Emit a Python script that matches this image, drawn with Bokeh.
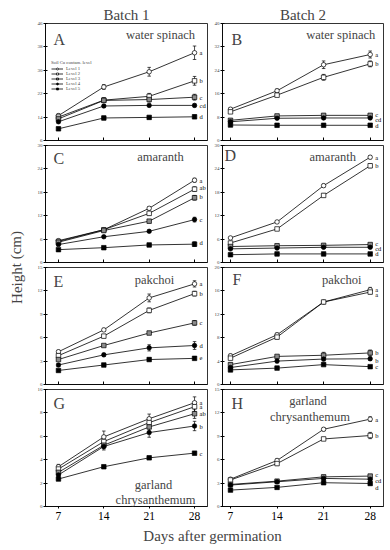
from bokeh.plotting import figure
from bokeh.models import (ColumnDataSource, Whisker, TeeHead, Range1d, FixedTicker,
                          Label, Legend, LegendItem)
from bokeh.layouts import row, column
from bokeh.embed import file_html
from bokeh.resources import INLINE
from bokeh.core.properties import value

# ---------------- data ----------------
days = [7, 14, 21, 28]
levels = ["Level 1", "Level 2", "Level 3", "Level 4", "Level 5"]
legend_title = "Soil Cu contam. level"
batches = ["Batch 1", "Batch 2"]
x_title = "Days after germination"
y_title = "Height (cm)"

A_mean = [[14.5, 24.3, 29.5, 36.0], [14.0, 19.8, 21.1, 26.4], [13.4, 19.7, 20.0, 20.8],
          [12.4, 17.8, 18.0, 18.0], [10.0, 13.7, 13.9, 14.1]]
A_err = [[0.6, 0.8, 1.5, 2.3], [0.5, 0.8, 1.0, 1.5], [0.4, 0.7, 0.8, 1.0],
         [0.4, 0.5, 0.4, 0.5], [0.4, 0.6, 0.5, 0.6]]
A_let = ["a", "b", "c", "cd", "d"]

B_mean = [[10.7, 17.0, 25.9, 29.4], [9.8, 15.5, 21.6, 26.2], [6.9, 8.4, 8.6, 8.6],
          [6.4, 7.6, 7.7, 7.7], [5.3, 5.2, 5.2, 5.2]]
B_err = [[0.5, 0.6, 1.3, 1.2], [0.5, 0.5, 1.0, 1.0], [0.3, 0.3, 0.3, 0.3],
         [0.3, 0.3, 0.3, 0.3], [0.2, 0.2, 0.2, 0.2]]
B_let = ["a", "b", "c", "cd", "d"]

C_mean = [[5.6, 8.4, 13.9, 21.1], [5.4, 8.4, 12.6, 18.8], [5.2, 8.2, 10.6, 16.6],
          [4.6, 6.6, 8.0, 11.0], [3.3, 3.8, 4.5, 4.7]]
C_err = [[0.2, 0.3, 0.4, 0.5], [0.2, 0.3, 0.4, 0.6], [0.2, 0.3, 0.4, 0.6],
         [0.2, 0.2, 0.3, 0.6], [0.2, 0.2, 0.3, 0.6]]
C_let = ["a", "ab", "b", "c", "d"]

D_mean = [[6.3, 10.4, 19.7, 27.0], [5.0, 8.6, 17.2, 24.8], [4.1, 4.3, 4.4, 4.6],
          [3.5, 3.7, 3.9, 3.9], [2.0, 2.2, 2.2, 2.2]]
D_err = [[0.2, 0.3, 0.4, 0.4], [0.2, 0.3, 0.4, 0.5], [0.2, 0.2, 0.2, 0.2],
         [0.2, 0.2, 0.2, 0.2], [0.1, 0.1, 0.1, 0.1]]
D_let = ["a", "b", "c", "cd", "d"]

E_mean = [[4.2, 7.0, 11.1, 12.9], [3.7, 6.2, 9.5, 11.65], [3.2, 5.0, 6.6, 7.9],
          [2.5, 3.8, 4.7, 5.0], [1.8, 2.5, 3.2, 3.35]]
E_err = [[0.2, 0.2, 0.5, 0.4], [0.2, 0.2, 0.3, 0.3], [0.1, 0.1, 0.2, 0.3],
         [0.2, 0.2, 0.4, 0.5], [0.1, 0.1, 0.2, 0.2]]
E_let = ["a", "b", "c", "d", "e"]

F_mean = [[4.9, 8.5, 14.1, 16.2], [4.5, 8.1, 14.1, 15.8], [3.4, 4.8, 5.0, 5.4],
          [2.9, 4.0, 4.35, 4.4], [2.5, 2.8, 3.4, 3.05]]
F_err = [[0.3, 0.3, 0.2, 0.4], [0.2, 0.3, 0.2, 0.3], [0.3, 0.2, 0.5, 0.5],
         [0.2, 0.3, 0.3, 0.3], [0.1, 0.1, 0.2, 0.2]]
F_let = ["a", "a", "b", "b", "c"]

G_mean = [[3.4, 5.95, 7.5, 8.87], [3.2, 5.55, 7.17, 8.53], [2.92, 5.24, 6.8, 7.93],
          [2.7, 5.13, 6.32, 6.88], [2.35, 3.4, 4.16, 4.56]]
G_err = [[0.2, 0.5, 0.4, 0.5], [0.2, 0.3, 0.4, 0.4], [0.2, 0.3, 0.4, 0.4],
         [0.2, 0.3, 0.4, 0.4], [0.05, 0.05, 0.05, 0.05]]
G_let = ["a", "a", "ab", "b", "c"]

H_mean = [[3.5, 5.9, 9.9, 11.2], [3.4, 5.5, 8.66, 9.1], [2.83, 3.25, 3.8, 3.9],
          [2.75, 3.17, 3.6, 3.5], [2.1, 2.45, 3.05, 2.95]]
H_err = [[0.1, 0.2, 0.2, 0.3], [0.1, 0.2, 0.2, 0.4], [0.1, 0.1, 0.1, 0.2],
         [0.1, 0.1, 0.1, 0.2], [0.1, 0.1, 0.2, 0.2]]
H_let = ["a", "b", "c", "cd", "d"]

# ---------------- styling / geometry ----------------
FONT = "Liberation Serif"
COLW = [181, 179]
BL = [15, 10]
BR = [4, 7]
ROWH = [143, 122, 122, 139]
BT = [23, 2, 2, 2]
BB = [3, 3, 3, 20]
FW = 162
FH = 117
XR = [(5, 30), (5.8, 30)]
MARK = [("circle", "white"), ("square", "white"), ("square", "#8c8c8c"),
        ("circle", "black"), ("square", "black")]


def make_panel(tag, c, r, means, errs, letters, yr, yticks, loff, tag_pos, names,
               legend=False, batch=None):
    x0, x1 = XR[c]
    y0, y1 = yr
    p = figure(width=COLW[c], height=ROWH[r], x_range=Range1d(x0, x1),
               y_range=Range1d(y0, y1), output_backend="svg", toolbar_location=None,
               min_border_left=BL[c], min_border_right=BR[c],
               min_border_top=BT[r], min_border_bottom=BB[r],
               outline_line_color="black", outline_line_width=0.8,
               background_fill_color="white", border_fill_color="white")
    p.grid.visible = False

    def fx(px):
        return x0 + px / FW * (x1 - x0)

    def fy(px):
        return y1 - px / FH * (y1 - y0)

    if batch is not None:
        p.title.text = batch[0]
        p.title.text_font = FONT
        p.title.text_font_size = "15px"
        p.title.text_font_style = "normal"
        p.title.align = "center"
        p.title.standoff = 2
        p.title.offset = batch[1]

    ya = p.yaxis[0]
    ya.ticker = FixedTicker(ticks=yticks)
    ya.major_label_text_font = FONT
    ya.major_label_text_font_size = "5px"
    ya.major_label_text_color = "#444444"
    ya.major_tick_in = 2
    ya.major_tick_out = 2
    ya.major_label_standoff = 1
    ya.minor_tick_line_color = None
    ya.axis_line_width = 0.8

    xa = p.xaxis[0]
    xa.ticker = FixedTicker(ticks=days)
    xa.minor_tick_line_color = None
    xa.axis_line_width = 0.8
    if r == 3:
        xa.major_label_text_font = FONT
        xa.major_label_text_font_size = "11.5px"
        xa.major_label_text_color = "black"
        xa.major_tick_in = 0
        xa.major_tick_out = 2
        xa.major_label_standoff = 3
    else:
        xa.major_label_overrides = {d: "" for d in days}
        xa.major_label_text_font_size = "1px"
        xa.major_label_standoff = 0
        xa.major_tick_in = 3
        xa.major_tick_out = 0

    items = []
    for i in range(5):
        m = means[i]
        e = errs[i]
        src = ColumnDataSource(dict(x=days, y=m,
                                    upper=[a + b for a, b in zip(m, e)],
                                    lower=[a - b for a, b in zip(m, e)]))
        w = Whisker(source=src, base="x", upper="upper", lower="lower",
                    dimension="height", line_color="black", line_width=0.7,
                    upper_head=TeeHead(size=3.5, line_width=0.7, line_color="black"),
                    lower_head=TeeHead(size=3.5, line_width=0.7, line_color="black"))
        p.add_layout(w)
        lr = p.line("x", "y", source=src, line_color="black", line_width=0.8)
        mk, fc = MARK[i]
        sr = p.scatter("x", "y", source=src, marker=mk, size=4.5,
                       fill_color=fc, line_color="black", line_width=0.7)
        items.append(LegendItem(label=levels[i], renderers=[lr, sr]))

    p.text(x=[days[-1]] * 5, y=[m[-1] for m in means], text=letters,
           x_offset=5, y_offset=loff, text_font=value(FONT),
           text_font_size=value("6.5px"), text_baseline="middle", text_align="left",
           text_color="black")

    p.add_layout(Label(x=fx(tag_pos[0]), y=fy(tag_pos[1]), text=tag, text_font=FONT,
                       text_font_size="16px", text_align="left", text_baseline="middle"))
    for txt, cx, cy in names:
        p.add_layout(Label(x=fx(cx), y=fy(cy), text=txt, text_font=FONT,
                           text_font_size="12.5px", text_align="center",
                           text_baseline="middle"))
    if legend:
        lg = Legend(items=items, location=(6, 49), title=legend_title,
                    title_text_font=FONT, title_text_font_size="4.7px",
                    title_text_font_style="normal", title_standoff=1,
                    label_text_font=FONT, label_text_font_size="4.7px",
                    label_height=5, glyph_height=5, glyph_width=12, label_standoff=3,
                    spacing=0, padding=0, margin=0,
                    background_fill_alpha=0, border_line_color=None)
        p.add_layout(lg)
    return p


pA = make_panel("A", 0, 0, A_mean, A_err, A_let, (6, 46), [6, 14, 22, 30, 38, 46],
                [0, 0, 0, 0, 0], (8, 16), [("water spinach", 115, 11)], legend=True,
                batch=(batches[0], 4))
pB = make_panel("B", 1, 0, B_mean, B_err, B_let, (0, 40), [0, 8, 16, 24, 32, 40],
                [0, 0, -1, 1.5, 0], (9, 16), [("water spinach", 119, 11)],
                batch=(batches[1], 0))
pC = make_panel("C", 0, 1, C_mean, C_err, C_let, (0, 30), [0, 6, 12, 18, 24, 30],
                [0, -1.5, -1.5, 0, -2], (8, 13), [("amaranth", 115, 11)])
pD = make_panel("D", 1, 1, D_mean, D_err, D_let, (0, 30), [0, 6, 12, 18, 24, 30],
                [0, 0, -1.5, 1.3, 0], (2, 10), [("amaranth", 111, 11)])
pE = make_panel("E", 0, 2, E_mean, E_err, E_let, (0, 15), [0, 3, 6, 9, 12, 15],
                [0, 0, 0, 0, 0], (8, 14), [("pakchoi", 109, 12)])
pF = make_panel("F", 1, 2, F_mean, F_err, F_let, (0, 20), [0, 4, 8, 12, 16, 20],
                [0, 2.5, 0, 1.5, 0], (10, 12), [("pakchoi", 120, 12)])
pG = make_panel("G", 0, 3, G_mean, G_err, G_let, (0, 10), [0, 2, 4, 6, 8, 10],
                [0, 0, 0, 0, 0], (8, 14),
                [("garland", 108, 95), ("chrysanthemum", 110, 110)])
pH = make_panel("H", 1, 3, H_mean, H_err, H_let, (0, 15), [0, 3, 6, 9, 12, 15],
                [0, 0, -2, 1.5, 4], (9, 14),
                [("garland", 86, 11), ("chrysanthemum", 88, 27)])


def strip(w, h):
    s = figure(width=w, height=h, x_range=Range1d(0, w), y_range=Range1d(0, h),
               output_backend="svg", toolbar_location=None, min_border=0,
               x_axis_location=None, y_axis_location=None, outline_line_color=None)
    s.grid.visible = False
    return s


left = strip(30, 549)
left.add_layout(Label(x=16, y=549 - 267, text=y_title, text_font=FONT,
                      text_font_size="15px", angle=1.5708, text_align="center",
                      text_baseline="middle"))
bottom = strip(360, 23)
bottom.add_layout(Label(x=182, y=14, text=x_title, text_font=FONT, text_font_size="15px",
                        text_align="center", text_baseline="middle"))

layout = row(left, column(row(pA, pB), row(pC, pD), row(pE, pF), row(pG, pH), bottom))

open("out.html", "w").write(file_html(layout, INLINE))
